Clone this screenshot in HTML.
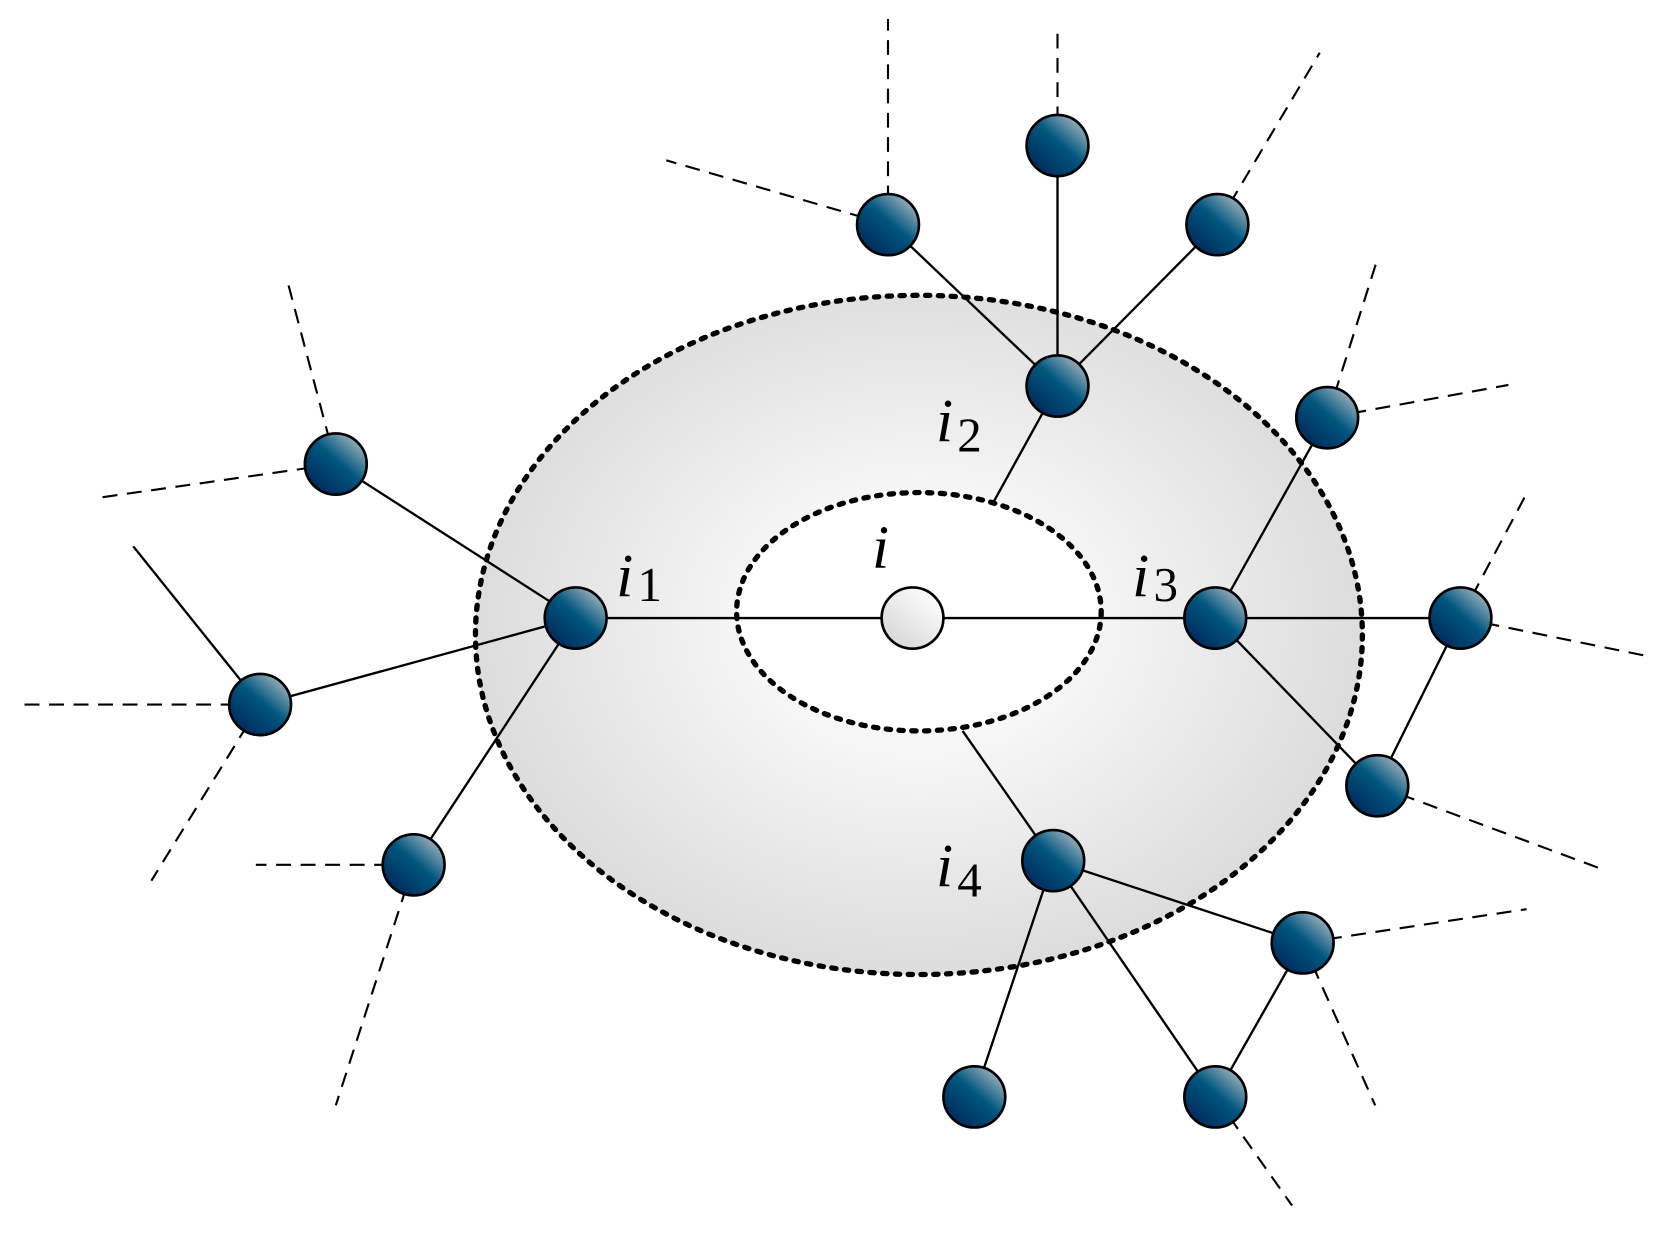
<!DOCTYPE html>
<html><head><meta charset="utf-8"><style>html,body{margin:0;padding:0;background:#fff}svg{display:block}
.lb{font-family:"Liberation Serif","Times New Roman",serif;font-size:58px;font-style:italic}
.sb{font-family:"Liberation Serif","Times New Roman",serif;font-size:46px}</style></head>
<body>
<svg width="1663" height="1234" viewBox="0 0 1560 1170" preserveAspectRatio="none" xmlns="http://www.w3.org/2000/svg">
<defs>
<radialGradient id="ring" cx="862" cy="590" r="420" gradientUnits="userSpaceOnUse" gradientTransform="translate(862 590) scale(1 0.8) translate(-862 -590)">
<stop offset="0.35" stop-color="#f7f7f7"/><stop offset="1" stop-color="#dcdcdc"/></radialGradient>
<linearGradient id="nd" x1="0.85" y1="0.1" x2="0.15" y2="0.9">
<stop offset="0" stop-color="#9db0bc"/><stop offset="0.45" stop-color="#00577f"/><stop offset="1" stop-color="#002a5c"/></linearGradient>
<linearGradient id="cg" x1="0.8" y1="0.2" x2="0.2" y2="0.9">
<stop offset="0" stop-color="#fafafa"/><stop offset="1" stop-color="#d8d8d8"/></linearGradient>
</defs>
<ellipse cx="862" cy="602" rx="416" ry="322" fill="url(#ring)"/>
<ellipse cx="862" cy="580" rx="171" ry="113" fill="#fff"/>
<g stroke="#000" stroke-width="2.2" fill="none">
<line x1="540" y1="586" x2="1140" y2="586"/>
<line x1="540" y1="586" x2="315" y2="440"/>
<line x1="540" y1="586" x2="244" y2="668"/>
<line x1="540" y1="586" x2="388" y2="820"/>
<line x1="244" y1="668" x2="125" y2="518"/>
<line x1="992" y1="366" x2="833" y2="213"/>
<line x1="992" y1="366" x2="992" y2="138"/>
<line x1="992" y1="366" x2="1142" y2="213"/>
<line x1="992" y1="366" x2="932" y2="476"/>
<line x1="1140" y1="586" x2="1245" y2="396"/>
<line x1="1140" y1="586" x2="1370" y2="586"/>
<line x1="1140" y1="586" x2="1292" y2="745"/>
<line x1="1370" y1="586" x2="1292" y2="745"/>
<line x1="988" y1="816" x2="903" y2="693"/>
<line x1="988" y1="816" x2="1222" y2="894"/>
<line x1="988" y1="816" x2="1140" y2="1040"/>
<line x1="988" y1="816" x2="914" y2="1040"/>
<line x1="1222" y1="894" x2="1140" y2="1040"/>
</g>
<g stroke="#000" stroke-width="2" fill="none" stroke-dasharray="14,9">
<line x1="315" y1="440" x2="270" y2="268"/>
<line x1="315" y1="440" x2="92" y2="472"/>
<line x1="244" y1="668" x2="18" y2="668"/>
<line x1="244" y1="668" x2="142" y2="835"/>
<line x1="388" y1="820" x2="240" y2="820"/>
<line x1="388" y1="820" x2="315" y2="1048"/>
<line x1="833" y1="213" x2="833" y2="18"/>
<line x1="833" y1="213" x2="625" y2="152"/>
<line x1="992" y1="138" x2="992" y2="28"/>
<line x1="1142" y1="213" x2="1238" y2="50"/>
<line x1="1245" y1="396" x2="1292" y2="246"/>
<line x1="1245" y1="396" x2="1415" y2="365"/>
<line x1="1370" y1="586" x2="1432" y2="468"/>
<line x1="1370" y1="586" x2="1545" y2="622"/>
<line x1="1292" y1="745" x2="1500" y2="823"/>
<line x1="1222" y1="894" x2="1432" y2="862"/>
<line x1="1222" y1="894" x2="1290" y2="1048"/>
<line x1="1140" y1="1040" x2="1212" y2="1143"/>
</g>
<g fill="none" stroke="#000" stroke-width="5" stroke-linecap="round">
<ellipse cx="862" cy="602" rx="416" ry="322" stroke-dasharray="4,8"/>
<ellipse cx="862" cy="580" rx="171" ry="113" stroke-dasharray="4,8"/>
</g>
<circle cx="856" cy="586" r="29" fill="url(#cg)" stroke="#000" stroke-width="2.5"/>
<g fill="url(#nd)" stroke="#000" stroke-width="2.5">
<circle cx="540" cy="586" r="29"/><circle cx="992" cy="366" r="29"/><circle cx="1140" cy="586" r="29"/><circle cx="988" cy="816" r="29"/>
<circle cx="315" cy="440" r="29"/><circle cx="244" cy="668" r="29"/><circle cx="388" cy="820" r="29"/>
<circle cx="833" cy="213" r="29"/><circle cx="992" cy="138" r="29"/><circle cx="1142" cy="213" r="29"/>
<circle cx="1245" cy="396" r="29"/><circle cx="1370" cy="586" r="29"/><circle cx="1292" cy="745" r="29"/>
<circle cx="1222" cy="894" r="29"/><circle cx="1140" cy="1040" r="29"/><circle cx="914" cy="1040" r="29"/>
</g>
<g fill="#000">
<text class="lb" x="578" y="565">i</text><text class="sb" x="598" y="570">1</text>
<text class="lb" x="878" y="418">i</text><text class="sb" x="898" y="428">2</text>
<text class="lb" x="818" y="538">i</text>
<text class="lb" x="1062" y="565">i</text><text class="sb" x="1082" y="570">3</text>
<text class="lb" x="878" y="840">i</text><text class="sb" x="898" y="850">4</text>
</g>
</svg>
</body></html>
